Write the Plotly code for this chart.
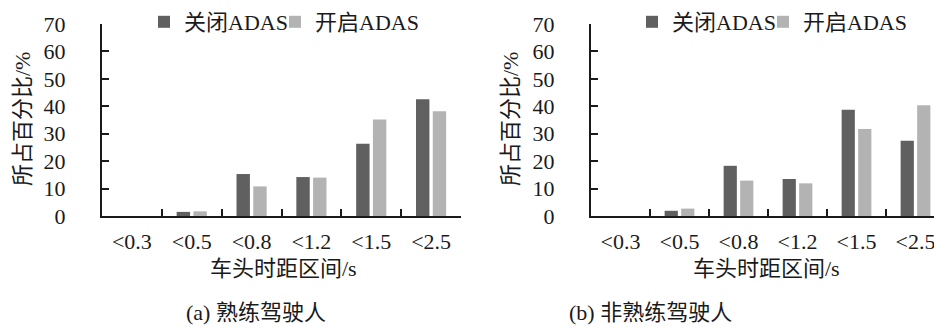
import plotly.graph_objects as go

categories = ["<0.3", "<0.5", "<0.8", "<1.2", "<1.5", "<2.5"]
skilled_off = [0, 1.5, 15.3, 14.2, 26.3, 42.6]
skilled_on = [0, 1.7, 10.8, 14.0, 35.2, 38.2]
novice_off = [0, 1.9, 18.3, 13.5, 38.7, 27.4]
novice_on = [0, 2.7, 12.9, 11.9, 31.7, 40.4]
series_names = ["关闭ADAS", "开启ADAS"]
captions = ["(a) 熟练驾驶人", "(b) 非熟练驾驶人"]
x_title = "车头时距区间/s"
y_title = "所占百分比/%"
y_ticks = [0, 10, 20, 30, 40, 50, 60, 70]

OFF = 8  # page body margin
W, H = 942 - OFF, 327 - OFF
FONT = "Liberation Serif, Noto Sans CJK SC, serif"
TXT = "#1a1a1a"
DARK = "#606060"
LIGHT = "#b3b3b3"


def px(x):
    return (x - OFF) / W


def py(y):
    return 1 - (y - OFF) / H


fig = go.Figure()
fig.add_trace(go.Bar(x=categories, y=skilled_off, name=series_names[0], marker_color=DARK,
                     xaxis="x", yaxis="y", legend="legend", legendwidth=86))
fig.add_trace(go.Bar(x=categories, y=skilled_on, name=series_names[1], marker_color=LIGHT,
                     xaxis="x", yaxis="y", legend="legend", legendwidth=110))
fig.add_trace(go.Bar(x=categories, y=novice_off, name=series_names[0], marker_color=DARK,
                     xaxis="x2", yaxis="y2", legend="legend2", legendwidth=86))
fig.add_trace(go.Bar(x=categories, y=novice_on, name=series_names[1], marker_color=LIGHT,
                     xaxis="x2", yaxis="y2", legend="legend2", legendwidth=110))

ydom = [py(216), py(24)]
xaxis_common = dict(
    type="category", showline=True, linecolor=TXT, linewidth=2, automargin=False,
    ticks="inside", ticklen=7, tickwidth=2, tickcolor=TXT, tickson="boundaries",
    showgrid=False, zeroline=False, tickfont=dict(family=FONT, size=22, color=TXT),
    ticklabelstandoff=5, fixedrange=True,
)
yaxis_common = dict(
    range=[0, 70], tickvals=y_ticks, showline=True, linecolor=TXT, linewidth=2, automargin=False,
    ticks="inside", ticklen=7, tickwidth=2, tickcolor=TXT,
    showgrid=False, zeroline=False, tickfont=dict(family=FONT, size=22, color=TXT),
    ticklabelstandoff=30, fixedrange=True,
)

legend_common = dict(
    orientation="h", font=dict(family=FONT, size=22, color=TXT),
    bgcolor="rgba(0,0,0,0)", borderwidth=0, yanchor="middle", xanchor="left",
    itemclick=False, itemdoubleclick=False,
)

right_end = 942
cat_px = 59.0
fig.update_layout(
    template="none",
    width=W, height=H,
    margin=dict(l=0, r=0, t=0, b=0, autoexpand=False),
    paper_bgcolor="white", plot_bgcolor="white",
    barmode="group", bargap=0.44, bargroupgap=0.2,
    xaxis=dict(domain=[px(102), px(461)], anchor="y", range=[-0.5, 5.5], **xaxis_common),
    yaxis=dict(domain=ydom, anchor="x", **yaxis_common),
    xaxis2=dict(domain=[px(591), 1.0], anchor="y2",
                range=[-0.5, -0.5 + (right_end - 591) / cat_px], **xaxis_common),
    yaxis2=dict(domain=ydom, anchor="x2", **yaxis_common),
    legend=dict(x=px(144), y=py(22), **legend_common),
    legend2=dict(x=px(632), y=py(22), **legend_common),
    showlegend=True,
)

annos = [
    dict(text=x_title, x=px(283), y=py(268)),
    dict(text=x_title, x=px(766), y=py(268)),
    dict(text=y_title, x=px(23), y=py(119), textangle=-90),
    dict(text=y_title, x=px(511), y=py(119), textangle=-90),
    dict(text=captions[0], x=px(256), y=py(312)),
    dict(text=captions[1], x=px(650), y=py(312)),
]
for a in annos:
    fig.add_annotation(xref="paper", yref="paper", xanchor="center", yanchor="middle",
                       showarrow=False, font=dict(family=FONT, size=22, color=TXT), **a)

fig.write_html("out.html")
